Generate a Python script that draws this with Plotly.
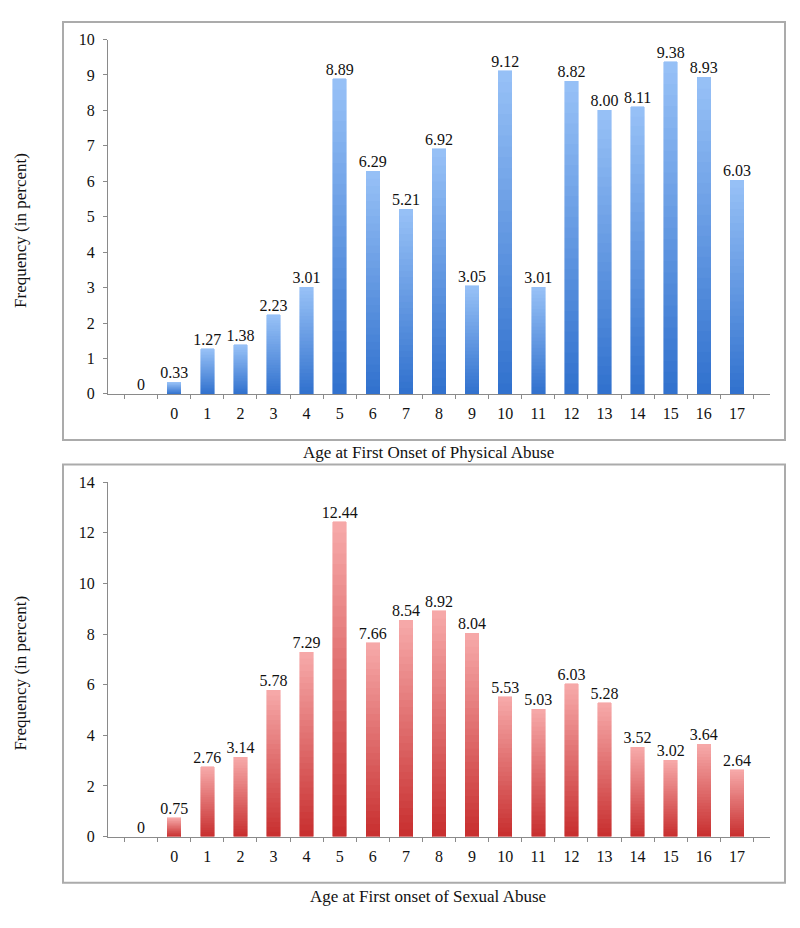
import plotly.graph_objects as go

categories = [" ", "0", "1", "2", "3", "4", "5", "6", "7", "8", "9", "10",
              "11", "12", "13", "14", "15", "16", "17"]
physical = [0, 0.33, 1.27, 1.38, 2.23, 3.01, 8.89, 6.29, 5.21, 6.92, 3.05,
            9.12, 3.01, 8.82, 8.00, 8.11, 9.38, 8.93, 6.03]
sexual = [0, 0.75, 2.76, 3.14, 5.78, 7.29, 12.44, 7.66, 8.54, 8.92, 8.04,
          5.53, 5.03, 6.03, 5.28, 3.52, 3.02, 3.64, 2.64]
physical_title = "Age at First Onset of Physical Abuse"
sexual_title = "Age at First onset of Sexual Abuse"
y_title = "Frequency (in percent)"

OFF = 8  # default page body margin
W, H = 800 - OFF, 928 - OFF
FONT = "Liberation Serif"
N_SEG = 30


def lerp(c1, c2, t):
    return "rgb(%d,%d,%d)" % tuple(round(a + (b - a) * t) for a, b in zip(c1, c2))


def fmt(v):
    return "0" if v == 0 else f"{v:.2f}"


def px_(x):
    return (x - OFF) / W


def py(y):
    return (H - (y - OFF)) / H


fig = go.Figure()


def add_panel(values, xa, ya, dark, light):
    for i in range(N_SEG):
        col = lerp(dark, light, i / (N_SEG - 1))
        fig.add_trace(go.Bar(
            x=categories, y=[v / N_SEG for v in values], xaxis=xa, yaxis=ya,
            marker=dict(color=col, line=dict(color=col,
                                             width=[0.6 if v > 0 else 0 for v in values])),
            showlegend=False, hoverinfo="skip"))
    fig.add_trace(go.Scatter(
        x=categories, y=values, xaxis=xa, yaxis=ya, mode="text",
        text=[fmt(v) for v in values], textposition="top center",
        textfont=dict(family=FONT, size=16, color="#111"),
        cliponaxis=False, showlegend=False, hoverinfo="skip"))


add_panel(physical, "x", "y", (50, 114, 206), (150, 192, 246))
add_panel(sexual, "x2", "y2", (200, 48, 48), (246, 168, 168))

axis_common = dict(showline=True, linecolor="#8a8a8a", linewidth=1,
                   ticks="outside", tickcolor="#8a8a8a", ticklen=4,
                   tickfont=dict(family=FONT, size=16, color="#111"),
                   showgrid=False, zeroline=False, fixedrange=True)

xdom = [px_(108), px_(770)]
fig.update_layout(
    width=W, height=H, margin=dict(l=0, r=0, t=0, b=0),
    paper_bgcolor="white", plot_bgcolor="white",
    barmode="stack", bargap=0.59,
    xaxis=dict(domain=xdom, anchor="y", type="category", tickson="boundaries",
               ticklabelstandoff=5, **axis_common),
    yaxis=dict(domain=[py(393), py(32)], anchor="x", range=[0, 10], dtick=1,
               ticklabelstandoff=5, **axis_common),
    xaxis2=dict(domain=xdom, anchor="y2", type="category", tickson="boundaries",
                ticklabelstandoff=5, **axis_common),
    yaxis2=dict(domain=[py(844), py(483)], anchor="x2", range=[0, 14], dtick=2,
                ticklabelstandoff=5, **axis_common),
)

box = dict(type="rect", xref="paper", yref="paper", line=dict(color="#ababab", width=2),
           fillcolor="rgba(0,0,0,0)", layer="below")
fig.add_shape(x0=px_(63), x1=px_(785), y0=py(440), y1=py(14), **box)
fig.add_shape(x0=px_(63), x1=px_(785), y0=py(891), y1=py(465), **box)

ann = dict(xref="paper", yref="paper", showarrow=False, xanchor="center", yanchor="middle",
           font=dict(family=FONT, size=17, color="#111"))
fig.add_annotation(x=px_(428), y=py(453), text=physical_title, **ann)
fig.add_annotation(x=px_(428), y=py(905), text=sexual_title, **ann)
fig.add_annotation(x=px_(21), y=py(227), text=y_title, textangle=-90, **ann)
fig.add_annotation(x=px_(21), y=py(678), text=y_title, textangle=-90, **ann)

fig.write_html("out.html")
